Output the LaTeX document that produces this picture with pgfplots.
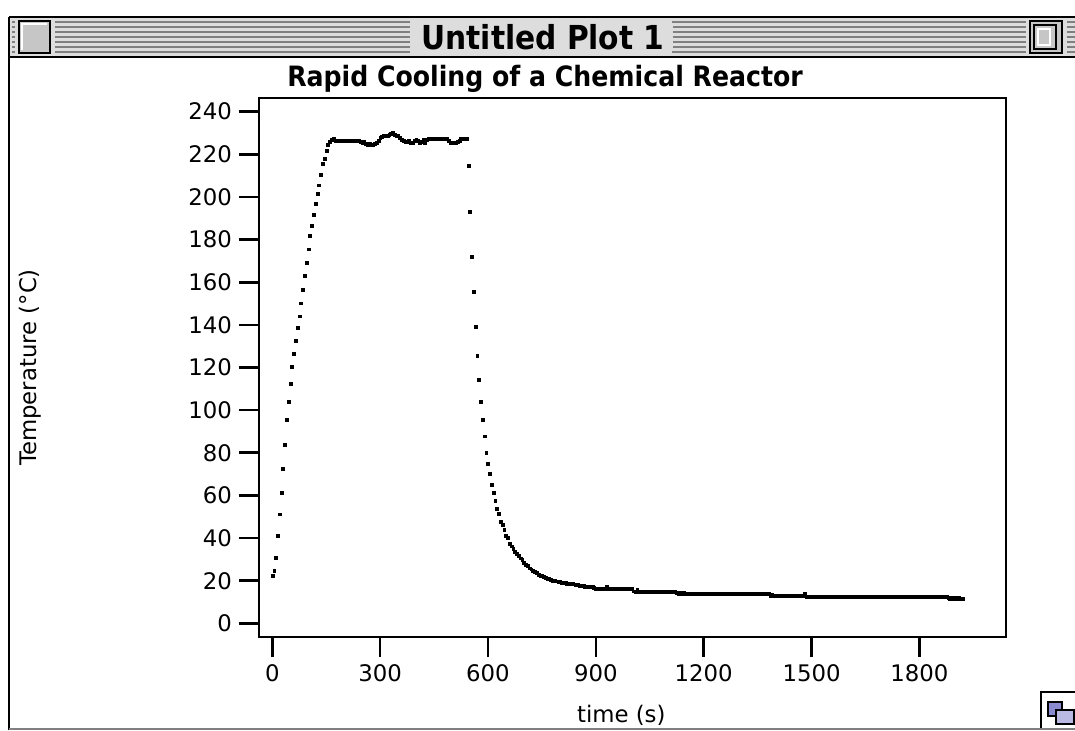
\documentclass[border=0pt]{standalone}
\usepackage{fontspec}
\setmainfont{DejaVu Sans}
\newfontfamily\chicago{DejaVu Sans Condensed}
\usepackage{pgfplots}
\pgfplotsset{compat=1.18}
\definecolor{barbg}{HTML}{DDDDDD}
\definecolor{stripe}{HTML}{808080}
\definecolor{iconblue}{HTML}{8A8AD0}
\begin{document}
\begin{tikzpicture}
\path[use as bounding box] (0,0) rectangle (537.5pt,365pt);
\fill[white] (0,0) rectangle (537.5pt,365pt);
% title bar
\fill[barbg] (4.5pt,336.5pt) rectangle (537.5pt,356.5pt);
\foreach \i in {0,...,6}{
  \draw[stripe, line width=1.1pt] (6pt,{354pt-2.5pt*\i}) -- (205pt,{354pt-2.5pt*\i});
  \draw[stripe, line width=1.1pt] (336pt,{354pt-2.5pt*\i}) -- (537.5pt,{354pt-2.5pt*\i});
}
\draw[black, line width=1.3pt] (4.5pt,356.5pt) -- (537.5pt,356.5pt);
\draw[black, line width=1.3pt] (4.5pt,336.5pt) -- (537.5pt,336.5pt);
\draw[black, line width=1.3pt] (4.5pt,0pt) -- (4.5pt,356.5pt);
% close box
\filldraw[fill=barbg, draw=barbg] (7.5pt,337.5pt) rectangle (27pt,355.5pt);
\filldraw[fill=gray!45, draw=black, line width=1pt] (9.5pt,338.5pt) rectangle (25pt,354.5pt);
\draw[white, line width=1pt] (11pt,340pt) -- (11pt,353pt) -- (23.5pt,353pt);
% zoom box
\filldraw[fill=barbg, draw=barbg] (513pt,337.5pt) rectangle (533pt,355.5pt);
\filldraw[fill=gray!45, draw=black, line width=1pt] (515pt,338.5pt) rectangle (531pt,354.5pt);
\draw[black, line width=0.8pt] (517pt,340.5pt) rectangle (528pt,352.5pt);
\draw[white, line width=0.8pt] (519pt,342.5pt) rectangle (525pt,350.5pt);
% window title
\node[font=\chicago\bfseries\fontsize{16.5}{18}\selectfont, fill=barbg, inner xsep=4pt, inner ysep=0.5pt] at (271.5pt,346.5pt) {Untitled Plot 1};
% grow box
\filldraw[fill=white, draw=black, line width=1pt] (520.5pt,0pt) -- (520.5pt,19pt) -- (537.5pt,19pt);
\filldraw[fill=iconblue, draw=black, line width=0.6pt] (524pt,7pt) rectangle (531pt,14pt);
\filldraw[fill=iconblue!60, draw=black, line width=0.6pt] (528pt,3pt) rectangle (537pt,10pt);
\draw[gray, line width=1pt] (4.5pt,0.5pt) -- (537.5pt,0.5pt);
\begin{axis}[
  at={(129.5pt,46.5pt)}, anchor=south west,
  scale only axis, width=373.5pt, height=269.5pt,
  xmin=-37, xmax=2041, ymin=-6.4, ymax=246.4,
  axis line style={line width=1.33pt},
  tick pos=left, tick align=outside,
  major tick length=10pt,
  every tick/.style={black, line width=1.33pt},
  xtick={0,300,...,1800}, ytick={0,20,...,240},
  /pgf/number format/1000 sep={},
  /pgf/number format/assume math mode=true,
  tick label style={font=\fontsize{11.4}{13}\selectfont},
  xlabel={time (s)}, ylabel={Temperature (°C)},
  label style={font=\fontsize{11.4}{13}\selectfont},
  x label style={at={(axis description cs:0.485,-0.1447)}, anchor=center},
  y label style={at={(axis description cs:-0.3066,0.5)}, anchor=center},
  every axis title shift=0pt,
  title={Rapid Cooling of a Chemical Reactor},
  title style={at={(axis description cs:0.383,1.0353)}, anchor=center, font=\chicago\bfseries\fontsize{14}{16}\selectfont},
]
\addplot[only marks, mark=square*, mark size=0.72pt, mark options={black, line width=0.15pt}] coordinates {
(0,22.2) (5,24.8) (10,31.0) (15,41.2) (20,51.2) (25,61.2) (30,72.4) (35,83.8) (40,95.5) (45,103.8)
(50,112.5) (55,120.2) (60,126.5) (65,132.7) (70,138.8) (75,144.1) (80,150.2) (85,156.4) (90,163.0) (95,169.0)
(100,175.5) (105,181.7) (110,186.7) (115,191.7) (120,196.7) (125,201.7) (130,205.5) (135,210.6) (140,215.6) (145,218.1)
(150,221.9) (155,224.4) (160,226.0)
(165,226.8) (170,227.4) (175,226.6) (180,226.4) (185,226.4) (190,226.4) (195,226.4) (200,226.4) (205,226.4) (210,226.4)
(215,226.4) (220,226.4) (225,226.4) (230,226.4) (235,226.4) (240,226.6) (245,225.8) (250,225.4) (255,226.0) (260,224.8)
(265,224.4) (270,225.2) (275,224.6) (280,224.4) (285,224.8) (290,225.6) (295,226.6) (300,227.6) (305,228.4) (310,228.8)
(315,228.8) (320,228.8) (325,229.2) (330,229.6) (335,230.0) (340,229.4) (345,228.8) (350,228.6) (355,227.6) (360,226.8)
(365,226.2) (370,225.8) (375,225.8) (380,226.2) (385,225.6) (390,225.6) (395,226.4) (400,227.0) (405,226.2) (410,225.6)
(415,225.8) (420,226.8) (425,225.6) (430,226.8) (435,227.4) (440,227.4) (445,227.4) (450,227.4) (455,227.4) (460,227.4)
(465,227.4) (470,227.4) (475,227.4) (480,227.4) (485,227.2) (490,226.2) (495,225.6) (500,225.6) (505,225.6) (510,225.6)
(515,225.8) (520,226.4) (525,227.2) (530,227.4) (535,227.4) (540,227.4)
(545,214.5) (550,193.3) (555,172.0) (560,155.6) (565,139.2) (570,125.5) (575,114.2) (580,104.0) (585,95.5) (590,87.8)
(595,80.1) (600,75.1) (605,70.3) (610,65.1) (615,61.4) (620,57.6) (625,53.9) (630,51.3) (635,47.6) (640,46.3)
(645,43.8) (650,41.3) (655,40.0) (660,37.4) (665,36.2) (670,35.1) (675,33.5) (680,32.6) (685,31.9) (690,30.6)
(695,29.9) (700,28.4) (705,27.6) (710,26.9) (715,25.9) (720,25.4) (725,24.8) (730,24.1) (735,23.6) (740,23.0)
(745,22.5) (750,22.2) (755,21.8) (760,21.4) (765,21.0) (770,20.8) (775,20.5) (780,20.2) (785,20.0) (790,19.8)
(795,19.7) (800,19.4) (805,19.1) (810,19.0) (815,18.9) (820,18.7) (825,18.6) (830,18.6) (835,18.5) (840,18.4)
(845,18.3) (850,18.1) (855,17.6) (860,17.5) (865,17.5) (870,17.4) (875,17.4) (880,17.3) (885,17.2) (890,17.1)
(895,16.8) (900,16.4) (905,16.2) (910,16.2) (915,16.2) (920,16.2) (925,16.2) (930,17.3) (935,16.2) (940,16.2)
(945,16.2) (950,16.2) (955,16.2) (960,16.2) (965,16.2) (970,16.2) (975,16.2) (980,16.2) (985,16.2) (990,16.2)
(995,16.2) (1000,16.2) (1005,15.1) (1010,15.0) (1015,15.8) (1020,15.0) (1025,15.0) (1030,15.0) (1035,15.0) (1040,15.0)
(1045,15.0) (1050,15.0) (1055,15.0) (1060,15.0) (1065,15.0) (1070,15.0) (1075,15.0) (1080,15.0) (1085,15.0) (1090,15.0)
(1095,15.0) (1100,15.0) (1105,15.0) (1110,15.0) (1115,15.0) (1120,15.0) (1125,14.4) (1130,13.8) (1135,14.4) (1140,14.0)
(1145,14.6) (1150,14.0) (1155,13.8) (1160,14.0) (1165,14.0) (1170,14.0) (1175,14.0) (1180,14.0) (1185,14.0) (1190,14.0)
(1195,14.0) (1200,14.0) (1205,14.0) (1210,14.0) (1215,14.0) (1220,14.0) (1225,14.0) (1230,14.0) (1235,14.0) (1240,14.0)
(1245,14.0) (1250,14.0) (1255,14.0) (1260,14.0) (1265,14.0) (1270,14.0) (1275,14.0) (1280,14.0) (1285,14.0) (1290,14.0)
(1295,14.0) (1300,14.0) (1305,14.0) (1310,14.0) (1315,14.0) (1320,14.0) (1325,14.0) (1330,14.0) (1335,14.0) (1340,14.0)
(1345,14.0) (1350,14.0) (1355,14.0) (1360,14.0) (1365,14.0) (1370,14.0) (1375,14.0) (1380,14.0) (1385,13.0) (1390,13.6)
(1395,12.9) (1400,12.9) (1405,12.9) (1410,12.9) (1415,12.9) (1420,12.9) (1425,12.9) (1430,12.9) (1435,12.9) (1440,12.9)
(1445,12.9) (1450,12.9) (1455,12.9) (1460,12.9) (1465,12.9) (1470,12.9) (1475,12.9) (1480,13.8) (1485,12.6) (1490,12.6)
(1495,12.6) (1500,12.6) (1505,12.6) (1510,12.6) (1515,12.6) (1520,12.6) (1525,12.6) (1530,12.6) (1535,12.6) (1540,12.6)
(1545,12.6) (1550,12.6) (1555,12.6) (1560,12.6) (1565,12.6) (1570,12.6) (1575,12.6) (1580,12.6) (1585,12.6) (1590,12.6)
(1595,12.6) (1600,12.6) (1605,12.6) (1610,12.6) (1615,12.6) (1620,12.6) (1625,12.6) (1630,12.6) (1635,12.6) (1640,12.6)
(1645,12.6) (1650,12.6) (1655,12.6) (1660,12.6) (1665,12.6) (1670,12.6) (1675,12.6) (1680,12.6) (1685,12.6) (1690,12.6)
(1695,12.6) (1700,12.6) (1705,12.6) (1710,12.6) (1715,12.6) (1720,12.6) (1725,12.6) (1730,12.6) (1735,12.6) (1740,12.6)
(1745,12.6) (1750,12.6) (1755,12.6) (1760,12.6) (1765,12.6) (1770,12.6) (1775,12.6) (1780,12.6) (1785,12.6) (1790,12.6)
(1795,12.6) (1800,12.6) (1805,12.6) (1810,12.6) (1815,12.6) (1820,12.6) (1825,12.6) (1830,12.6) (1835,12.6) (1840,12.6)
(1845,12.6) (1850,12.6) (1855,12.6) (1860,12.6) (1865,12.6) (1870,12.6) (1875,12.6) (1880,12.0) (1885,11.4) (1890,12.1)
(1895,11.4) (1900,11.9) (1905,11.4) (1910,12.0) (1915,11.4) (1920,11.6)
};
\end{axis}
\end{tikzpicture}
\end{document}
